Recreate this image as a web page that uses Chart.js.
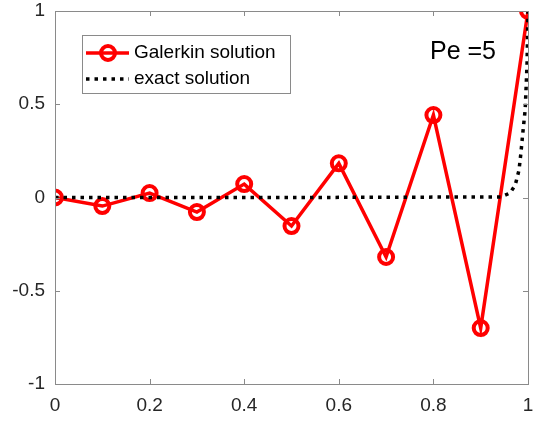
<!DOCTYPE html>
<html>
<head>
<meta charset="utf-8">
<script src="https://cdn.jsdelivr.net/npm/chart.js@4/dist/chart.umd.min.js"></script>
<style>
  html, body { margin: 0; padding: 0; background: #fff; }
  #wrap { width: 539px; height: 421px; position: relative; }
</style>
</head>
<body>
<div id="wrap"><canvas id="myChart"></canvas></div>
<script>
// Galerkin vs exact solution, Pe = 5

const nodes = [0, 0.1, 0.2, 0.3, 0.4, 0.5, 0.6, 0.7, 0.8, 0.9, 1];
const galerkin = [0, -0.046, 0.024, -0.078, 0.072, -0.153, 0.183, -0.319, 0.442, -0.70, 1];

const exactX = [0, 0.5, 0.943, 0.962, 0.973, 0.981, 0.985, 0.989, 0.994, 0.996, 0.998, 1];
const exactY = [0, 0, 0.003, 0.024, 0.067, 0.147, 0.238, 0.346, 0.469, 0.59, 0.72, 1];

const xTicks = [0, 0.2, 0.4, 0.6, 0.8, 1];
const yTicks = [-1, -0.5, 0, 0.5, 1];

const seriesNames = ["Galerkin solution", "exact solution"];
const annotation = "Pe =5";

const FONT = "'Liberation Sans', Arial, Helvetica, sans-serif";
const TEXT = "#262626";
const AXIS = "#8a8a8a";

// box + inward ticks on all four sides, matlab style
const boxPlugin = {
  id: "box",
  afterDraw(chart) {
    const ctx = chart.ctx;
    const a = chart.chartArea;
    const xs = chart.scales.x, ys = chart.scales.y;
    const tl = 5;
    ctx.save();
    ctx.strokeStyle = AXIS;
    ctx.lineWidth = 1;
    ctx.strokeRect(Math.round(a.left) + 0.5, Math.round(a.top) + 0.5,
                   Math.round(a.right - a.left), Math.round(a.bottom - a.top));
    ctx.beginPath();
    xTicks.forEach(v => {
      const px = Math.round(xs.getPixelForValue(v)) + 0.5;
      ctx.moveTo(px, a.bottom); ctx.lineTo(px, a.bottom - tl);
      ctx.moveTo(px, a.top); ctx.lineTo(px, a.top + tl);
    });
    yTicks.forEach(v => {
      const py = Math.round(ys.getPixelForValue(v)) + 0.5;
      ctx.moveTo(a.left, py); ctx.lineTo(a.left + tl, py);
      ctx.moveTo(a.right, py); ctx.lineTo(a.right - tl, py);
    });
    ctx.stroke();
    ctx.restore();
  }
};

// legend box in the upper left + the Pe label
const legendPlugin = {
  id: "legendBox",
  afterDraw(chart) {
    const ctx = chart.ctx;
    const ds = chart.data.datasets;
    ctx.save();
    ctx.fillStyle = "#fff";
    ctx.fillRect(82, 35, 208, 58);
    ctx.strokeStyle = AXIS;
    ctx.lineWidth = 1;
    ctx.strokeRect(82.5, 35.5, 208, 58);

    // galerkin row
    ctx.strokeStyle = ds[0].borderColor;
    ctx.lineWidth = ds[0].borderWidth;
    ctx.beginPath(); ctx.moveTo(86, 53); ctx.lineTo(129, 53); ctx.stroke();
    ctx.lineWidth = ds[0].pointBorderWidth;
    ctx.beginPath(); ctx.arc(108, 53, ds[0].pointRadius, 0, Math.PI * 2); ctx.stroke();

    // exact row
    ctx.strokeStyle = ds[1].borderColor;
    ctx.lineWidth = ds[1].borderWidth;
    ctx.setLineDash(ds[1].borderDash);
    ctx.beginPath(); ctx.moveTo(86, 79); ctx.lineTo(129, 79); ctx.stroke();
    ctx.setLineDash([]);

    ctx.fillStyle = "#000";
    ctx.font = "19px " + FONT;
    ctx.textBaseline = "middle";
    ctx.fillText(ds[0].label, 134, 53);
    ctx.fillText(ds[1].label, 134, 79);

    ctx.font = "25px " + FONT;
    ctx.fillText(annotation, 430, 52);
    ctx.restore();
  }
};

const ctx = document.getElementById("myChart").getContext("2d");

new Chart(ctx, {
  type: "scatter",
  data: {
    datasets: [
      {
        label: seriesNames[0],
        data: nodes.map((x, i) => ({ x: x, y: galerkin[i] })),
        showLine: true,
        borderColor: "#ff0000",
        backgroundColor: "rgba(0,0,0,0)",
        borderWidth: 3.5,
        pointRadius: 7,
        pointBorderWidth: 4,
        pointBorderColor: "#ff0000",
        pointBackgroundColor: "rgba(0,0,0,0)",
        pointHoverRadius: 7,
        order: 2
      },
      {
        // plotted second in the original, so it sits on top
        label: seriesNames[1],
        data: exactX.map((x, i) => ({ x: x, y: exactY[i] })),
        showLine: true,
        borderColor: "#000000",
        borderWidth: 3.5,
        borderDash: [3.5, 5],
        pointRadius: 0,
        order: 1
      }
    ]
  },
  options: {
    responsive: true,
    maintainAspectRatio: false,
    animation: false,
    layout: { padding: { top: 11, right: 9, left: 0, bottom: 0 } },
    plugins: {
      legend: { display: false },
      tooltip: { enabled: false }
    },
    scales: {
      x: {
        type: "linear",
        min: 0, max: 1,
        afterBuildTicks: s => { s.ticks = xTicks.map(v => ({ value: v })); },
        afterFit: s => { s.height = 37; s.paddingLeft = 0; s.paddingRight = 0; },
        grid: { display: false, drawTicks: false },
        border: { display: false },
        ticks: {
          padding: 10,
          color: TEXT,
          font: { family: FONT, size: 19 },
          maxRotation: 0,
          callback: v => String(v)
        }
      },
      y: {
        type: "linear",
        min: -1, max: 1,
        afterBuildTicks: s => { s.ticks = yTicks.map(v => ({ value: v })); },
        afterFit: s => { s.width = 55; s.paddingTop = 0; s.paddingBottom = 0; },
        grid: { display: false, drawTicks: false },
        border: { display: false },
        ticks: {
          padding: 10,
          color: TEXT,
          font: { family: FONT, size: 19 },
          callback: v => String(v)
        }
      }
    }
  },
  plugins: [boxPlugin, legendPlugin]
});
</script>
</body>
</html>
